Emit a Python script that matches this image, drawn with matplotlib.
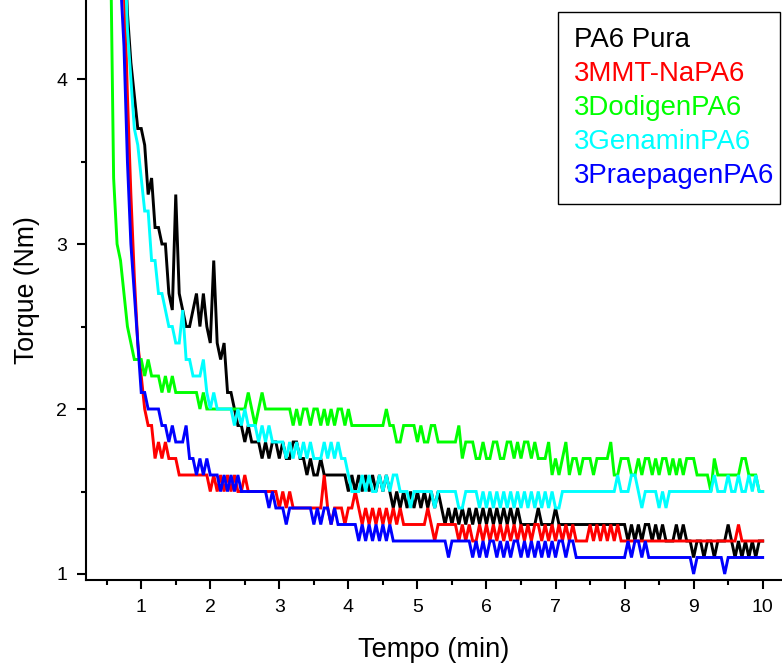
import numpy as np
import matplotlib
matplotlib.use("Agg")
import matplotlib.pyplot as plt
from matplotlib.patches import Rectangle
from matplotlib.ticker import MultipleLocator

plt.rcParams['font.family'] = ['Liberation Sans', 'DejaVu Sans']

# sampling: 0.50 .. 10.00 min every 0.05 min (values in tenths of N·m)
t_start, t_step, n_pts = 0.5, 0.05, 191

pa6_pura = [
    80, 75, 70, 62, 55, 49, 44, 41, 39, 37,
    37, 36, 33, 34, 31, 31, 30, 30, 27, 26,
    33, 27, 26, 25, 25, 26, 27, 25, 27, 25,
    24, 29, 24, 23, 24, 21, 21, 20, 19, 19,
    18, 19, 18, 18, 18, 17, 18, 17, 18, 18,
    17, 18, 17, 17, 18, 18, 17, 17, 16, 17,
    16, 16, 17, 16, 16, 16, 16, 16, 16, 16,
    15, 16, 15, 16, 15, 16, 15, 16, 15, 16,
    15, 16, 15, 14, 15, 14, 15, 14, 15, 14,
    15, 14, 15, 14, 15, 14, 15, 14, 13, 14,
    13, 14, 13, 14, 13, 14, 13, 14, 13, 14,
    13, 14, 13, 14, 13, 14, 13, 14, 13, 14,
    13, 13, 13, 13, 13, 14, 13, 13, 13, 13,
    14, 13, 13, 13, 13, 13, 13, 13, 13, 13,
    13, 13, 13, 13, 13, 13, 13, 13, 13, 13,
    13, 12, 13, 12, 13, 12, 13, 13, 12, 13,
    12, 13, 12, 12, 12, 13, 12, 13, 12, 12,
    11, 12, 12, 11, 12, 12, 11, 12, 12, 12,
    13, 12, 11, 12, 11, 12, 11, 12, 11, 12,
    12,
]

mmt_na = [
    80, 75, 68, 60, 52, 46, 39, 33, 28, 24,
    22, 20, 19, 19, 17, 18, 17, 18, 17, 17,
    17, 16, 16, 16, 16, 16, 16, 16, 16, 16,
    15, 16, 15, 16, 15, 16, 15, 16, 15, 15,
    16, 15, 15, 15, 15, 15, 15, 15, 15, 15,
    14, 15, 14, 15, 14, 14, 14, 14, 14, 14,
    14, 14, 14, 16, 14, 13, 14, 14, 14, 13,
    14, 14, 15, 14, 13, 14, 13, 14, 13, 14,
    13, 14, 13, 14, 13, 14, 13, 13, 13, 13,
    13, 13, 13, 14, 13, 12, 13, 13, 13, 13,
    13, 13, 12, 13, 12, 13, 12, 12, 13, 12,
    13, 12, 13, 12, 13, 12, 13, 12, 13, 12,
    13, 12, 13, 12, 13, 13, 12, 13, 12, 13,
    12, 13, 12, 13, 12, 13, 12, 12, 12, 12,
    13, 12, 13, 12, 13, 12, 13, 12, 13, 12,
    12, 12, 12, 12, 12, 12, 12, 12, 12, 12,
    12, 12, 12, 12, 12, 12, 12, 12, 12, 12,
    12, 12, 12, 12, 12, 12, 12, 12, 12, 12,
    12, 12, 12, 13, 12, 12, 12, 12, 12, 12,
    12,
]

dodigen = [
    60, 50, 34, 30, 29, 27, 25, 24, 23, 23,
    23, 22, 23, 22, 22, 22, 21, 22, 21, 22,
    21, 21, 21, 21, 21, 21, 21, 20, 21, 20,
    20, 20, 20, 20, 20, 20, 20, 20, 20, 20,
    20, 21, 20, 19, 20, 21, 20, 20, 20, 20,
    20, 20, 20, 20, 19, 20, 19, 20, 20, 19,
    20, 20, 19, 20, 19, 20, 19, 20, 20, 19,
    20, 19, 19, 19, 19, 19, 19, 19, 19, 19,
    19, 20, 19, 19, 18, 18, 19, 19, 19, 19,
    18, 19, 18, 18, 19, 19, 18, 18, 18, 18,
    18, 18, 19, 17, 18, 18, 18, 17, 17, 18,
    17, 17, 18, 18, 17, 17, 18, 18, 17, 18,
    17, 18, 18, 17, 18, 17, 17, 17, 18, 16,
    17, 16, 17, 18, 16, 17, 17, 16, 17, 17,
    17, 16, 17, 17, 17, 17, 18, 16, 16, 17,
    17, 17, 16, 16, 17, 16, 17, 17, 16, 17,
    16, 17, 17, 16, 17, 16, 17, 16, 17, 17,
    17, 16, 16, 16, 16, 15, 17, 16, 16, 16,
    16, 16, 16, 16, 17, 17, 16, 16, 16, 15,
    15,
]

genamin = [
    80, 75, 70, 62, 55, 49, 43, 40, 37, 36,
    34, 32, 32, 29, 29, 27, 27, 26, 25, 25,
    24, 24, 26, 23, 23, 22, 22, 22, 23, 21,
    20, 21, 20, 20, 20, 20, 20, 19, 20, 19,
    20, 19, 19, 19, 18, 19, 18, 19, 18, 18,
    18, 18, 17, 18, 17, 18, 17, 18, 17, 18,
    17, 17, 17, 18, 17, 18, 17, 18, 17, 17,
    16, 15, 15, 15, 16, 15, 16, 15, 15, 16,
    15, 16, 15, 16, 16, 15, 15, 15, 14, 15,
    15, 15, 15, 15, 15, 14, 15, 15, 15, 15,
    15, 15, 14, 14, 15, 15, 15, 15, 14, 15,
    14, 15, 14, 15, 14, 15, 14, 15, 14, 15,
    14, 15, 14, 15, 14, 15, 14, 15, 14, 15,
    14, 14, 15, 15, 15, 15, 15, 15, 15, 15,
    15, 15, 15, 15, 15, 15, 15, 15, 16, 15,
    15, 15, 16, 16, 15, 14, 15, 15, 15, 15,
    14, 15, 14, 15, 15, 15, 15, 15, 15, 15,
    15, 15, 15, 15, 15, 15, 16, 15, 15, 15,
    16, 15, 15, 16, 15, 15, 16, 15, 16, 15,
    15,
]

praepagen = [
    80, 70, 60, 52, 46, 42, 35, 30, 27, 24,
    21, 21, 20, 20, 20, 20, 19, 19, 18, 19,
    18, 18, 18, 19, 17, 17, 16, 17, 16, 17,
    16, 16, 16, 15, 16, 15, 16, 15, 16, 15,
    15, 15, 15, 15, 15, 15, 15, 14, 15, 14,
    14, 14, 13, 14, 14, 14, 14, 14, 14, 14,
    13, 14, 13, 14, 14, 13, 14, 13, 13, 13,
    13, 13, 13, 12, 13, 12, 13, 12, 13, 12,
    13, 12, 13, 12, 12, 12, 12, 12, 12, 12,
    12, 12, 12, 12, 12, 12, 12, 12, 12, 11,
    12, 12, 12, 12, 12, 12, 11, 12, 11, 12,
    11, 12, 12, 11, 12, 11, 12, 11, 12, 12,
    11, 12, 11, 12, 11, 12, 11, 12, 11, 12,
    11, 12, 12, 11, 12, 12, 11, 11, 11, 11,
    11, 11, 11, 11, 11, 11, 11, 11, 11, 11,
    11, 12, 11, 12, 12, 11, 12, 11, 11, 11,
    11, 11, 11, 11, 11, 11, 11, 11, 11, 11,
    10, 11, 11, 11, 11, 11, 11, 11, 11, 10,
    11, 11, 11, 11, 11, 11, 11, 11, 11, 11,
    11,
]

series_names = ["PA6 Pura", "3MMT-NaPA6", "3DodigenPA6", "3GenaminPA6", "3PraepagenPA6"]
series_vals = [pa6_pura, mmt_na, dodigen, genamin, praepagen]
series_colors = ["#000000", "#FF0000", "#00FF00", "#00FFFF", "#0000FF"]

x_ticks = [1, 2, 3, 4, 5, 6, 7, 8, 9, 10]
y_ticks = [1, 2, 3, 4]

W, H = 782, 664
fig = plt.figure(figsize=(W / 100, H / 100), dpi=100)
ax = fig.add_axes([86 / W, (H - 580) / H, (W - 86) / W, 580 / H])

t = t_start + t_step * np.arange(n_pts)
lines = []
for name, vals, col in zip(series_names, series_vals, series_colors):
    ln, = ax.plot(t, np.asarray(vals) / 10.0, color=col, lw=2.1, label=name,
                  solid_joinstyle='miter')
    lines.append(ln)

ax.set_xlim(0.2, 10.28)
ax.set_ylim(0.9636, 4.479)
ax.set_xticks(x_ticks)
ax.set_yticks(y_ticks)
ax.xaxis.set_minor_locator(MultipleLocator(0.5))
ax.yaxis.set_minor_locator(MultipleLocator(0.5))
for s in ("top", "right"):
    ax.spines[s].set_visible(False)
for s in ("left", "bottom"):
    ax.spines[s].set_linewidth(1.5)
ax.tick_params(which="major", direction="out", length=6.5, width=1.5,
               labelsize=14)
ax.tick_params(which="minor", direction="out", length=3.6, width=1.5)
ax.tick_params(axis="x", which="major", pad=7.5)
ax.tick_params(axis="y", which="major", pad=7)

ax.set_xlabel("Tempo (min)", fontsize=19.6, labelpad=14.5)
ax.set_ylabel("Torque (Nm)", fontsize=19.2, labelpad=12)

# legend box (text only, coloured labels)
fig.patches.append(Rectangle((558 / W, 1 - 204 / H), (780 - 558) / W, (204 - 12) / H,
                             transform=fig.transFigure, fill=True, facecolor="white",
                             edgecolor="black", lw=1.0, zorder=5))
for i, ln in enumerate(lines):
    fig.text(574 / W, 1 - (40 + 34 * i) / H, ln.get_label(), color=ln.get_color(),
             fontsize=19.9, va="center", ha="left", zorder=6)

fig.savefig("out.png", dpi=100)
